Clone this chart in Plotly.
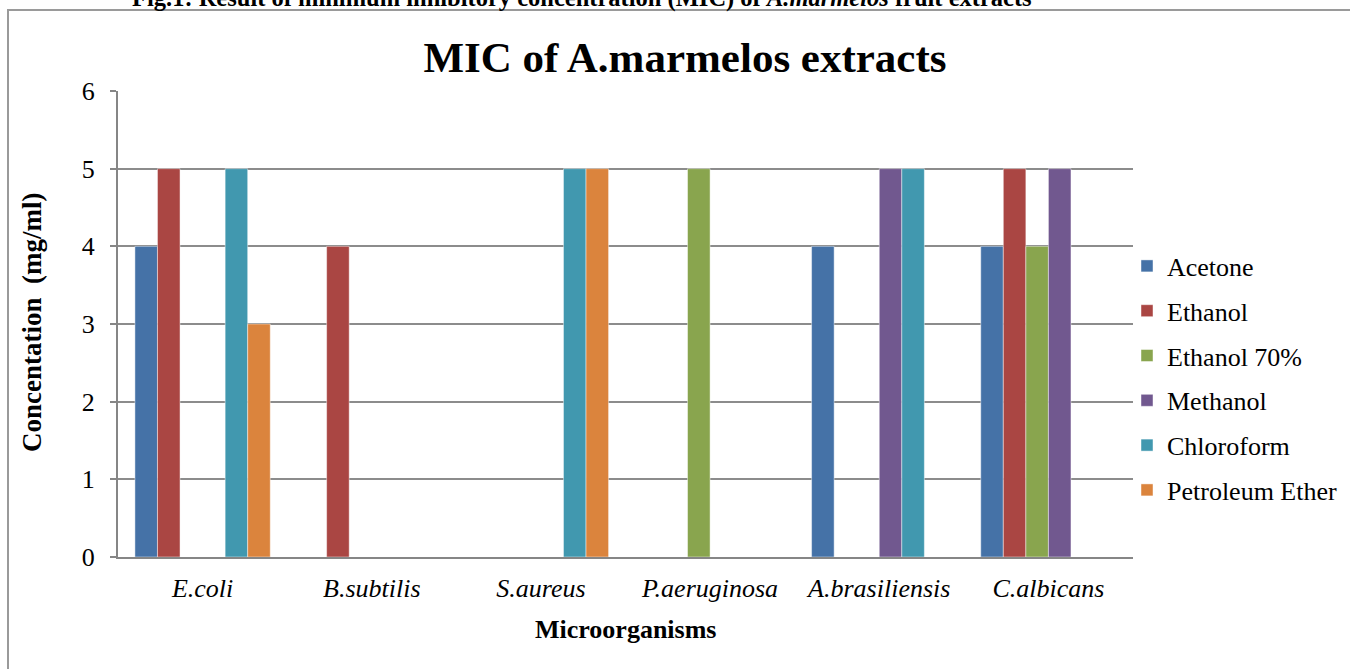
import plotly.graph_objects as go

categories = ["E.coli", "B.subtilis", "S.aureus", "P.aeruginosa", "A.brasiliensis", "C.albicans"]
series_names = ["Acetone", "Ethanol", "Ethanol 70%", "Methanol", "Chloroform", "Petroleum Ether"]
acetone = [4, 0, 0, 0, 4, 4]
ethanol = [5, 4, 0, 0, 0, 5]
ethanol70 = [0, 0, 0, 5, 0, 4]
methanol = [0, 0, 0, 0, 5, 5]
chloroform = [5, 0, 5, 0, 5, 0]
pet_ether = [3, 0, 5, 0, 0, 0]
colors = ["#4572A7", "#AA4643", "#89A54E", "#71588F", "#4198AF", "#DB843D"]
y_ticks = [0, 1, 2, 3, 4, 5, 6]

values = [acetone, ethanol, ethanol70, methanol, chloroform, pet_ether]

W, H = 1350, 669
X0, X1, Y0, Y1 = 118, 1133, 91, 557
L, R, T, B = X0, W - X1, Y0, H - Y1
pw, ph = W - L - R, H - T - B

def px(x):
    return (x - L) / pw

def py(y):
    return (H - B - y) / ph

FONT = "Times New Roman, Liberation Serif, serif"

fig = go.Figure()
for name, vals, col in zip(series_names, values, colors):
    fig.add_trace(go.Bar(
        x=categories, y=vals, name=name,
        marker=dict(color=col, line=dict(color="rgba(255,255,255,0.45)", width=1)),
        legendgroup=name,
    ))

fig.update_layout(
    width=W, height=H,
    margin=dict(l=L, r=R, t=T, b=B, autoexpand=False),
    paper_bgcolor="white", plot_bgcolor="white",
    barmode="group", bargap=0.2, bargroupgap=0,
    font=dict(family=FONT, color="black"),
    title=dict(text="<b>MIC of A.marmelos extracts</b>", font=dict(size=43, family=FONT, color="black"),
               xref="paper", x=px(685), xanchor="center",
               yref="container", y=1 - 57 / H, yanchor="middle"),
    legend=dict(font=dict(size=26, family=FONT, color="black"), x=px(1127), xanchor="left",
                y=py(378), yanchor="middle", traceorder="grouped", tracegroupgap=8,
                bgcolor="rgba(0,0,0,0)"),
    showlegend=True,
)
fig.update_xaxes(showline=True, linecolor="#868686", linewidth=2,
                 tickfont=dict(size=26, family=FONT, color="black", style="italic"),
                 ticks="", ticklabelstandoff=7, showgrid=False)
fig.update_yaxes(range=[0, 6], tickvals=y_ticks, showline=True, linecolor="#868686", linewidth=2,
                 ticks="outside", ticklen=6, tickcolor="#868686", tickwidth=2,
                 tickfont=dict(size=26, family=FONT, color="black"), ticklabelstandoff=10,
                 showgrid=True, gridcolor="#8c8c8c", gridwidth=2, zeroline=False)

fig.add_annotation(text="<b>Concentation  (mg/ml)</b>", textangle=-90, xref="paper", yref="paper",
                   x=px(32), y=py(323), xanchor="center", yanchor="middle", showarrow=False,
                   font=dict(size=27, family=FONT, color="black"))
fig.add_annotation(text="<b>Microorganisms</b>", xref="paper", yref="paper",
                   x=px(626), y=py(629), xanchor="center", yanchor="middle", showarrow=False,
                   font=dict(size=26, family=FONT, color="black"))
fig.add_annotation(text="<b>Fig.1: Result of minimum inhibitory concentration (MIC) of <i>A.marmelos</i> fruit extracts</b>",
                   xref="paper", yref="paper", x=px(582), y=py(-2), xanchor="center", yanchor="middle",
                   showarrow=False, font=dict(size=24.5, family=FONT, color="black"))
fig.add_shape(type="rect", xref="paper", yref="paper", x0=px(8), x1=px(1400), y0=py(10), y1=py(720),
              line=dict(color="#9a9a9a", width=2), fillcolor="rgba(0,0,0,0)", layer="below")

fig.write_html("out.html", config={"displayModeBar": False},
               post_script="document.body.style.margin='0';")
